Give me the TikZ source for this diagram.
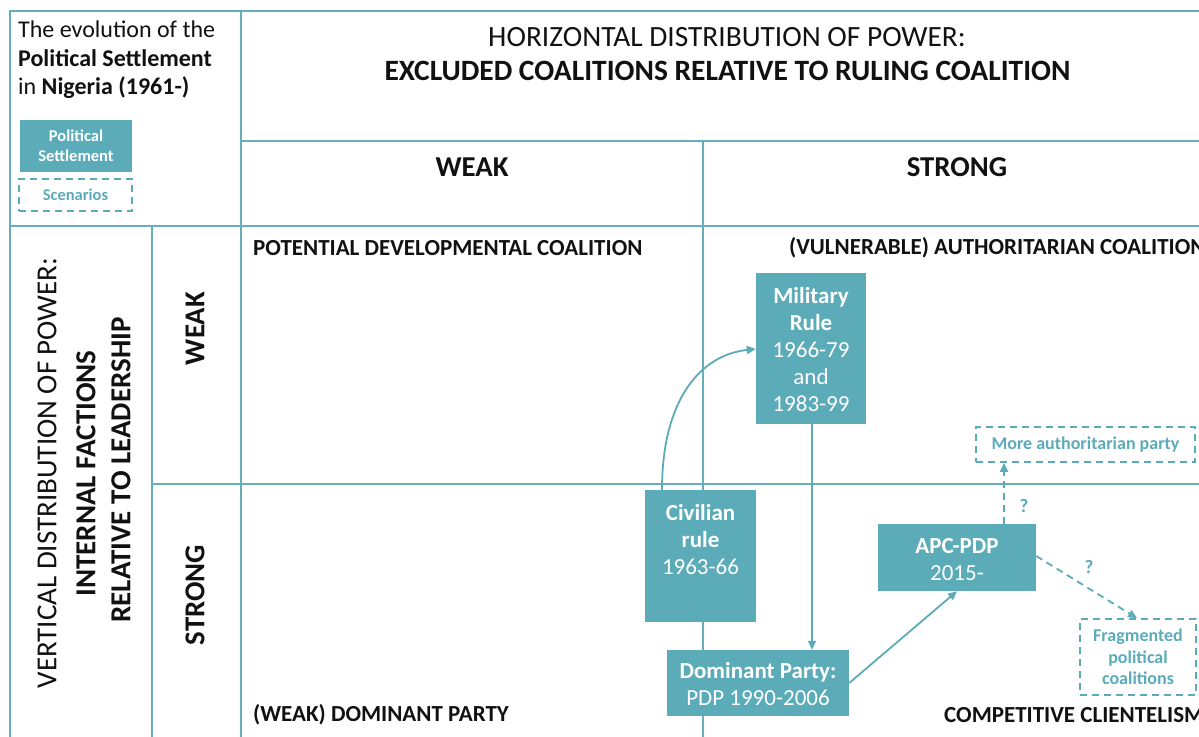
\documentclass[tikz,border=0pt]{standalone}
\usepackage{fontspec}
\setmainfont{Carlito}
\usetikzlibrary{arrows.meta}
\definecolor{teal1}{HTML}{5BABB8}
\definecolor{gridc}{HTML}{66AEBB}
\definecolor{ink}{HTML}{111111}
\tikzset{
  gridline/.style={draw=gridc, line width=1.6pt},
  psbox/.style={fill=teal1, draw=none, inner sep=0pt, text=white, align=center},
  boxtext/.style={text=white, align=center, font=\fontsize{23}{27}\selectfont, inner sep=0pt},
  scen/.style={draw=teal1, dashed, dash pattern=on 7pt off 5pt, line width=1.6pt, text=teal1, align=center, inner sep=0pt, font=\bfseries\fontsize{18}{21.5}\selectfont},
  conn/.style={draw=teal1, line width=1.8pt, -{Triangle[length=9pt,width=8pt]}},
  dconn/.style={conn, dash pattern=on 7pt off 5pt},
  qmark/.style={text=teal1, font=\bfseries\fontsize{19}{20}\selectfont, inner sep=0pt},
  hdr/.style={text=ink, inner sep=0pt, align=center},
  corner/.style={text=ink, inner sep=0pt, font=\bfseries\fontsize{23}{26}\selectfont}
}
\begin{document}
\begin{tikzpicture}[x=1pt, y=-1pt]
\useasboundingbox (0,0) rectangle (1199,736);
\clip (0,0) rectangle (1199,736);
% grid
\draw[gridline] (10,760) -- (10,11) -- (1220,11);
\draw[gridline] (241,11) -- (241,760);
\draw[gridline] (241,141) -- (1220,141);
\draw[gridline] (10,226) -- (1220,226);
\draw[gridline] (703,141) -- (703,760);
\draw[gridline] (152,226) -- (152,760);
\draw[gridline] (152,484) -- (1220,484);
% title block
\node[hdr, anchor=north west, align=left, font=\fontsize{24}{28.5}\selectfont] (title) at (18,21)
  {The evolution of the\\\textbf{Political Settlement}\\in \textbf{Nigeria (1961-)}};
\node[psbox, minimum width=112pt, minimum height=52pt, font=\bfseries\fontsize{16.5}{20}\selectfont] (legps) at (76,146) {Political\\Settlement};
\node[scen, minimum width=113pt, minimum height=32pt, font=\bfseries\fontsize{16.5}{20}\selectfont] (legsc) at (75.5,195) {Scenarios};
% headers
\node[hdr, font=\fontsize{29.4}{34}\selectfont] (h1) at (727,37) {HORIZONTAL DISTRIBUTION OF POWER:};
\node[hdr, font=\bfseries\fontsize{29.5}{34}\selectfont] (h2) at (727.5,71) {EXCLUDED COALITIONS RELATIVE TO RULING COALITION};
\node[hdr, font=\bfseries\fontsize{28.8}{30}\selectfont] (cw) at (472,167) {WEAK};
\node[hdr, font=\bfseries\fontsize{28.8}{30}\selectfont] (cs) at (957,167) {STRONG};
% vertical headers
\node[hdr, rotate=90, font=\fontsize{29}{34}\selectfont] (v1) at (47,473) {VERTICAL DISTRIBUTION OF POWER:};
\node[hdr, rotate=90, font=\bfseries\fontsize{29}{34}\selectfont] (v2) at (86,473.5) {INTERNAL FACTIONS};
\node[hdr, rotate=90, font=\bfseries\fontsize{29}{34}\selectfont] (v3) at (121,470) {RELATIVE TO LEADERSHIP};
\node[hdr, rotate=90, font=\bfseries\fontsize{28.8}{30}\selectfont] (rw) at (195,328.5) {WEAK};
\node[hdr, rotate=90, font=\bfseries\fontsize{28.8}{30}\selectfont] (rs) at (195,595) {STRONG};
% corner labels
\node[corner, anchor=west] (c1) at (253,248) {POTENTIAL DEVELOPMENTAL COALITION};
\node[corner, anchor=west] (c2) at (789,248) {(VULNERABLE) AUTHORITARIAN COALITION};
\node[corner, anchor=west] (c3) at (253,715) {(WEAK) DOMINANT PARTY};
\node[corner, anchor=west] (c4) at (944,715) {COMPETITIVE CLIENTELISM};
% political settlement boxes
\node[psbox, minimum width=110pt, minimum height=151pt] (mil) at (811,348.5) {};
\node[boxtext] (milt) at (811,349.5) {\textbf{Military}\\\textbf{Rule}\\1966-79\\and\\1983-99};
\node[psbox, minimum width=111pt, minimum height=132pt] (civ) at (700.5,556) {};
\node[boxtext] (civt) at (700.5,539.5) {\textbf{Civilian}\\\textbf{rule}\\1963-66};
\node[psbox, minimum width=182pt, minimum height=66pt] (dom) at (758,683) {};
\node[boxtext] (domt) at (758,684) {\textbf{Dominant Party:}\\PDP 1990-2006};
\node[psbox, minimum width=158pt, minimum height=67pt] (apc) at (957,557.5) {};
\node[boxtext] (apct) at (957,559.5) {\textbf{APC-PDP}\\2015-};
% scenarios
\node[scen, minimum width=219pt, minimum height=35pt] (auth) at (1085.5,444.5) {More authoritarian party};
\node[scen, minimum width=116pt, minimum height=76pt] (frag) at (1138,657) {Fragmented\\political\\coalitions};
% connectors
\draw[conn] (civ.north -| 662,0) .. controls (662,400) and (700,355) .. (mil.west |- 0,349);
\draw[conn] (mil.south -| 812,0) -- (dom.north -| 812,0);
\draw[conn] (dom.east |- 0,683) -- (apc.south -| 957,0);
\draw[dconn] (apc.north -| 1004,0) -- (auth.south -| 1004,0);
\draw[dconn] (apc.east |- 0,556) -- (frag.north -| 1137,0);
\node[qmark] (q1) at (1024,506) {?};
\node[qmark] (q2) at (1089,567) {?};
\end{tikzpicture}
\end{document}
